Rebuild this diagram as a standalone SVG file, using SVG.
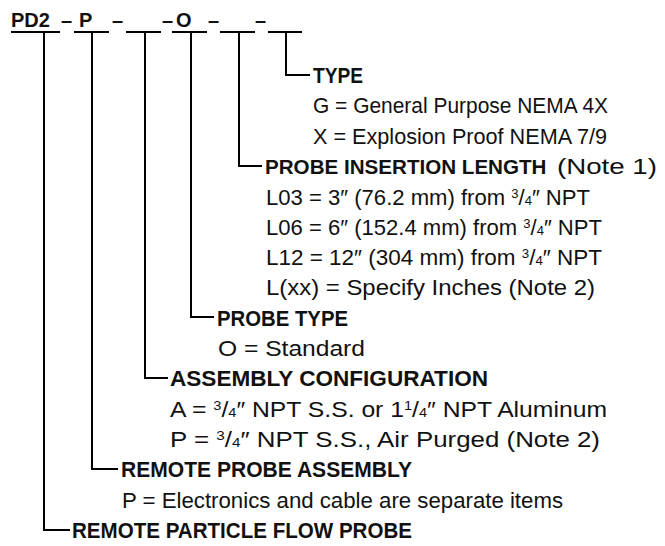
<svg xmlns="http://www.w3.org/2000/svg" width="665" height="546" viewBox="0 0 665 546">
<style>
text{font-family:"Liberation Sans",Arial,sans-serif;font-size:22px;fill:#111}
.b{font-weight:bold}
.h{font-weight:bold;font-size:20px}
.sup{font-size:13px}
.sm{font-size:13px}
.ln{fill:none;stroke:#000;stroke-width:2}
</style>
<rect width="665" height="546" fill="#fff"/>
<g id="code">
<text class="h" x="11" y="27">PD2</text>
<text class="h" x="61" y="27">–</text>
<text class="h" x="79" y="27">P</text>
<text class="h" x="112" y="27">–</text>
<text class="h" x="162" y="27">–</text>
<text class="h" x="176" y="27">O</text>
<text class="h" x="208" y="27">–</text>
<text class="h" x="255" y="27">–</text>
</g>
<g id="connectors" class="ln">
<path d="M11 32H60M74 32H109M126 32H161M172 32H207M220 32H255M268 32H302"/>
<path d="M286 32V75H310"/>
<path d="M239 32V166H262"/>
<path d="M191 32V317H214"/>
<path d="M145 32V378H168"/>
<path d="M92 32V469H118"/>
<path d="M44 32V530H70"/>
</g>
<g id="type">
<text class="b" x="313" y="83" textLength="50" lengthAdjust="spacingAndGlyphs">TYPE</text>
<text x="313" y="113" textLength="295" lengthAdjust="spacingAndGlyphs">G = General Purpose NEMA 4X</text>
<text x="313" y="143.5" textLength="294" lengthAdjust="spacingAndGlyphs">X = Explosion Proof NEMA 7/9</text>
</g>
<g id="length">
<text class="b" x="265" y="174" style="font-size:20.6px">PROBE INSERTION LENGTH</text>
<text x="557" y="174" textLength="100" lengthAdjust="spacingAndGlyphs">(Note 1)</text>
<text x="266" y="204.5" textLength="324" lengthAdjust="spacingAndGlyphs">L03 = 3″ (76.2 mm) from <tspan class="sup" dy="-7">3</tspan><tspan dy="7">/</tspan><tspan class="sm">4</tspan>″ NPT</text>
<text x="266" y="234.5" textLength="336" lengthAdjust="spacingAndGlyphs">L06 = 6″ (152.4 mm) from <tspan class="sup" dy="-7">3</tspan><tspan dy="7">/</tspan><tspan class="sm">4</tspan>″ NPT</text>
<text x="266" y="265" textLength="336" lengthAdjust="spacingAndGlyphs">L12 = 12″ (304 mm) from <tspan class="sup" dy="-7">3</tspan><tspan dy="7">/</tspan><tspan class="sm">4</tspan>″ NPT</text>
<text x="266" y="295" textLength="329" lengthAdjust="spacingAndGlyphs">L(xx) = Specify Inches (Note 2)</text>
</g>
<g id="probe-type">
<text class="b" x="217" y="325.5" textLength="131" lengthAdjust="spacingAndGlyphs">PROBE TYPE</text>
<text x="218" y="355.5" textLength="147" lengthAdjust="spacingAndGlyphs">O = Standard</text>
</g>
<g id="assembly">
<text class="b" x="170" y="386" textLength="318" lengthAdjust="spacingAndGlyphs">ASSEMBLY CONFIGURATION</text>
<text x="170" y="416.5" textLength="437" lengthAdjust="spacingAndGlyphs">A = <tspan class="sup" dy="-7">3</tspan><tspan dy="7">/</tspan><tspan class="sm">4</tspan>″ NPT S.S. or 1<tspan class="sup" dy="-7">1</tspan><tspan dy="7">/</tspan><tspan class="sm">4</tspan>″ NPT Aluminum</text>
<text x="170" y="446.5" textLength="430" lengthAdjust="spacingAndGlyphs">P = <tspan class="sup" dy="-7">3</tspan><tspan dy="7">/</tspan><tspan class="sm">4</tspan>″ NPT S.S., Air Purged (Note 2)</text>
</g>
<g id="remote-assembly">
<text class="b" x="121" y="477" textLength="291" lengthAdjust="spacingAndGlyphs">REMOTE PROBE ASSEMBLY</text>
<text x="122" y="507.5" textLength="441" lengthAdjust="spacingAndGlyphs">P = Electronics and cable are separate items</text>
</g>
<g id="remote-probe">
<text class="b" x="72" y="537.5" textLength="340" lengthAdjust="spacingAndGlyphs">REMOTE PARTICLE FLOW PROBE</text>
</g>
</svg>
